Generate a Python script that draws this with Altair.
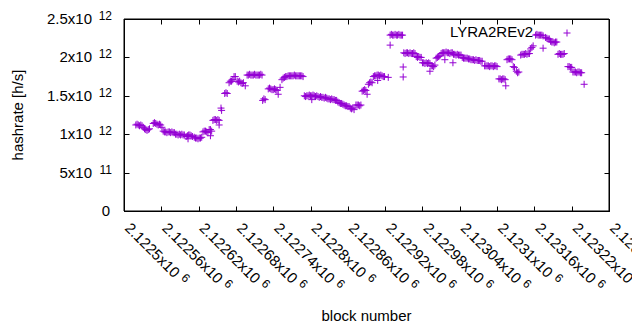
import altair as alt
import pandas as pd

# block numbers of the plotted samples
block = [
    2122519, 2122521, 2122523, 2122525, 2122527, 2122529,
    2122531, 2122533, 2122535, 2122537, 2122539, 2122541,
    2122547, 2122549, 2122551, 2122553, 2122555, 2122557, 2122559, 2122561,
    2122563, 2122565, 2122567, 2122569, 2122571, 2122573, 2122575, 2122577, 2122579, 2122581,
    2122583, 2122585, 2122587, 2122589, 2122591, 2122593, 2122595, 2122597,
    2122600, 2122602, 2122604, 2122606, 2122608, 2122610, 2122603,
    2122613, 2122615, 2122617, 2122619, 2122621, 2122623, 2122625,
    2122627, 2122629, 2122631, 2122633, 2122635, 2122637, 2122639, 2122641, 2122639,
    2122643, 2122645, 2122647, 2122649, 2122651, 2122653, 2122653, 2122656, 2122657,
    2122662, 2122664, 2122666,
    2122669, 2122671, 2122673, 2122675, 2122677, 2122679,
    2122682, 2122684, 2122686, 2122688, 2122690, 2122692, 2122695,
    2122698, 2122700, 2122702, 2122704, 2122706, 2122708, 2122710, 2122712, 2122714, 2122716, 2122718, 2122720, 2122722,
    2122723, 2122725, 2122727,
    2122732, 2122734, 2122736, 2122738, 2122740, 2122742, 2122744, 2122746, 2122748, 2122751,
    2122754, 2122756, 2122758, 2122760,
    2122762, 2122764, 2122766, 2122768, 2122770, 2122772, 2122774, 2122776, 2122778, 2122780, 2122782, 2122784, 2122786, 2122788,
    2122790, 2122792, 2122794, 2122796, 2122798, 2122800, 2122802, 2122804, 2122806, 2122808, 2122810, 2122812, 2122802,
    2122814, 2122816, 2122818, 2122820, 2122822, 2122824, 2122826,
    2122828, 2122830, 2122832, 2122834, 2122836, 2122838, 2122840, 2122842,
    2122844, 2122846, 2122848, 2122850, 2122852,
    2122854, 2122856, 2122858, 2122860, 2122862,
    2122864, 2122866, 2122868, 2122870,
    2122873, 2122875, 2122877, 2122879, 2122881,
    2122883, 2122885, 2122887, 2122889, 2122891,
    2122893, 2122895, 2122897, 2122899,
    2122901, 2122903, 2122905, 2122907, 2122909, 2122911, 2122913, 2122915, 2122917, 2122919, 2122908, 2122925,
    2122928, 2122930, 2122932, 2122934, 2122936, 2122938, 2122940, 2122942, 2122944, 2122946, 2122948, 2122928, 2122949, 2122949,
    2122950, 2122952, 2122954, 2122956, 2122958, 2122960, 2122962, 2122964, 2122966, 2122968,
    2122970, 2122972, 2122974, 2122976, 2122978,
    2122980, 2122982, 2122984, 2122986, 2122988, 2122990, 2122992, 2122992,
    2122994, 2122996, 2122998, 2123000,
    2123002, 2123004, 2123006, 2123008,
    2123010, 2123012, 2123014, 2123016, 2123018, 2123020, 2123022, 2123024, 2123026, 2123028, 2123016, 2123029,
    2123030, 2123032, 2123034, 2123036, 2123038, 2123040, 2123042,
    2123044, 2123046, 2123048, 2123050, 2123052, 2123054, 2123056,
    2123058, 2123060, 2123062, 2123064, 2123066, 2123068, 2123070, 2123072, 2123074, 2123076,
    2123080, 2123082, 2123084, 2123086, 2123088, 2123090, 2123092, 2123094, 2123096, 2123098, 2123100,
    2123103, 2123105, 2123107, 2123109, 2123111, 2123113, 2123114,
    2123116, 2123118, 2123120, 2123122, 2123124,
    2123126, 2123128,
    2123131, 2123133, 2123135,
    2123138, 2123140, 2123142, 2123144, 2123146, 2123148, 2123150, 2123152,
    2123154, 2123156, 2123158,
    2123162, 2123164, 2123166, 2123168, 2123170, 2123172, 2123174, 2123174,
    2123178, 2123180, 2123182, 2123184,
    2123186, 2123188, 2123190, 2123192, 2123194, 2123196,
    2123198, 2123200, 2123202, 2123204, 2123206, 2123208,
    2123214, 2123216, 2123218, 2123220,
    2123222, 2123224, 2123226, 2123228, 2123230, 2123232, 2123234, 2123236, 2123240,
]

# hashrate in units of 10^12 h/s, same order as block
hashrate_th = [
    1.12, 1.13, 1.12, 1.11, 1.12, 1.11,
    1.09, 1.07, 1.06, 1.05, 1.06, 1.07,
    1.14, 1.15, 1.14, 1.13, 1.12, 1.13, 1.12, 1.09,
    1.04, 1.03, 1.03, 1.02, 1.03, 1.03, 1.02, 1.03, 1.02, 1.02,
    1.00, 1.00, 0.99, 1.00, 0.99, 1.00, 0.99, 0.99,
    0.97, 0.98, 0.99, 0.99, 0.98, 0.97, 0.94,
    0.96, 0.95, 0.95, 0.94, 0.95, 0.95, 0.96,
    1.03, 1.04, 1.04, 1.03, 1.02, 1.06, 1.06, 1.04, 0.98,
    1.18, 1.19, 1.19, 1.18, 1.19, 1.18, 1.12, 1.34, 1.31,
    1.53, 1.54, 1.53,
    1.67, 1.69, 1.69, 1.71, 1.75, 1.75,
    1.69, 1.68, 1.69, 1.67, 1.66, 1.67, 1.63,
    1.77, 1.77, 1.78, 1.77, 1.77, 1.77, 1.78, 1.77, 1.77, 1.77, 1.77, 1.78, 1.77,
    1.44, 1.46, 1.45,
    1.59, 1.60, 1.59, 1.58, 1.58, 1.59, 1.58, 1.57, 1.52, 1.61,
    1.71, 1.73, 1.74, 1.75,
    1.75, 1.76, 1.76, 1.76, 1.76, 1.76, 1.77, 1.76, 1.76, 1.76, 1.76, 1.76, 1.76, 1.75,
    1.50, 1.49, 1.50, 1.50, 1.51, 1.50, 1.50, 1.51, 1.50, 1.49, 1.50, 1.49, 1.45,
    1.48, 1.49, 1.48, 1.48, 1.47, 1.48, 1.47,
    1.46, 1.46, 1.45, 1.46, 1.45, 1.45, 1.44, 1.44,
    1.42, 1.41, 1.40, 1.40, 1.39,
    1.38, 1.37, 1.37, 1.36, 1.36,
    1.34, 1.33, 1.34, 1.32,
    1.38, 1.38, 1.38, 1.37, 1.38,
    1.56, 1.57, 1.58, 1.57, 1.52,
    1.65, 1.67, 1.68, 1.67,
    1.75, 1.76, 1.76, 1.77, 1.77, 1.76, 1.77, 1.76, 1.75, 1.75, 1.70, 1.74,
    2.29, 2.30, 2.29, 2.29, 2.30, 2.29, 2.29, 2.30, 2.29, 2.29, 2.29, 2.16, 1.875, 1.745,
    2.06, 2.05, 2.06, 2.06, 2.05, 2.06, 2.05, 2.05, 2.06, 2.05,
    2.01, 2.00, 2.01, 2.00, 2.00,
    1.93, 1.93, 1.92, 1.93, 1.92, 1.93, 1.92, 1.82,
    1.89, 1.89, 1.88, 1.90,
    1.99, 2.00, 2.01, 2.02,
    2.05, 2.06, 2.06, 2.06, 2.07, 2.06, 2.06, 2.05, 2.06, 2.06, 1.97, 1.93,
    2.04, 2.04, 2.03, 2.04, 2.03, 2.03, 2.03,
    2.00, 1.99, 1.99, 1.99, 1.99, 1.98, 1.98,
    1.97, 1.97, 1.97, 1.96, 1.97, 1.96, 1.96, 1.96, 1.95, 1.95,
    1.89, 1.89, 1.89, 1.89, 1.88, 1.89, 1.89, 1.88, 1.89, 1.89, 1.88,
    1.72, 1.72, 1.71, 1.72, 1.72, 1.71, 1.63,
    1.97, 1.98, 1.98, 1.98, 1.97,
    1.88, 1.87,
    1.82, 1.80, 1.81,
    2.03, 2.04, 2.04, 2.04, 2.05, 2.04, 2.05, 2.05,
    2.11, 2.13, 2.15,
    2.29, 2.30, 2.29, 2.29, 2.29, 2.29, 2.28, 2.12,
    2.26, 2.25, 2.24, 2.24,
    2.21, 2.20, 2.20, 2.19, 2.20, 2.20,
    2.04, 2.05, 2.04, 2.04, 2.04, 2.05,
    1.88, 1.88, 1.87, 1.87,
    1.81, 1.81, 1.81, 1.80, 1.81, 1.81, 1.80, 1.80, 1.65,
]

x_ticks = [2122500, 2122560, 2122620, 2122680, 2122740, 2122800, 2122860,
           2122920, 2122980, 2123040, 2123100, 2123160, 2123220, 2123280]
x_tick_mantissa = ["2.1225x10", "2.12256x10", "2.12262x10", "2.12268x10", "2.12274x10",
                   "2.1228x10", "2.12286x10", "2.12292x10", "2.12298x10", "2.12304x10",
                   "2.1231x10", "2.12316x10", "2.12322x10", "2.12328x10"]
x_tick_exponent = ["6", "6", "6", "6", "6", "6", "6", "6", "6", "6", "6", "6", "6", "6"]

y_ticks = [0, 0.5, 1.0, 1.5, 2.0, 2.5]
y_tick_mantissa = ["0", "5x10", "1x10", "1.5x10", "2x10", "2.5x10"]
y_tick_exponent = ["", "11", "12", "12", "12", "12"]

series_name = ["LYRA2REv2"]
x_title = ["block number"]
y_title = ["hashrate [h/s]"]

assert len(block) == len(hashrate_th), (len(block), len(hashrate_th))
df = pd.DataFrame({"block": block, "hashrate": hashrate_th})
xt_df = pd.DataFrame({"tick": x_ticks, "mant": x_tick_mantissa, "exp": x_tick_exponent})
yt_df = pd.DataFrame({"tick": y_ticks, "mant": y_tick_mantissa, "exp": y_tick_exponent})
frame_df = pd.DataFrame({"x0": [x_ticks[0]], "x1": [x_ticks[-1]], "y0": [y_ticks[0]], "y1": [y_ticks[-1]]})
leg_df = pd.DataFrame({"name": series_name})
xtitle_df = pd.DataFrame({"t": x_title})
ytitle_df = pd.DataFrame({"t": y_title})

PURPLE = "#9400D3"
INK = "black"
PLUS = "M-1,0L1,0M0,-1L0,1"
FONT = "Liberation Sans"
FS = 15
EXP_FS = 12
W, H = 485, 192
TICK = 5

xscale = alt.Scale(domain=[x_ticks[0], x_ticks[-1]], nice=False, zero=False)
yscale = alt.Scale(domain=[y_ticks[0], y_ticks[-1]], nice=False, zero=False)

# axes carry no labels: they draw the border (domain) and the inward tick
# marks as short dashes of the grid at each end
x_axis = alt.Axis(orient="bottom", values=x_ticks, labels=False, ticks=False, title="",
                  domain=True, domainColor=INK, domainWidth=1,
                  grid=True, gridColor=INK, gridOpacity=1, gridWidth=1,
                  gridDash=[TICK, H - 2 * TICK, TICK, 0])
y_axis = alt.Axis(orient="left", values=y_ticks, labels=False, ticks=False, title="",
                  domain=True, domainColor=INK, domainWidth=1,
                  grid=True, gridColor=INK, gridOpacity=1, gridWidth=1,
                  gridDash=[TICK, W - 2 * TICK, TICK, 0])

X = alt.X("tick:Q", scale=xscale, axis=x_axis)
Y = alt.Y("tick:Q", scale=yscale, axis=y_axis)

points = alt.Chart(df).mark_point(
    shape=PLUS, size=49, filled=False, color=PURPLE, strokeWidth=1, opacity=1
).encode(
    x=alt.X("block:Q", scale=xscale, axis=x_axis),
    y=alt.Y("hashrate:Q", scale=yscale, axis=y_axis),
)

frame = alt.Chart(frame_df).mark_rect(filled=False, color=INK, strokeWidth=1, opacity=1).encode(
    x=alt.X("x0:Q", scale=xscale, axis=x_axis), x2="x1:Q",
    y=alt.Y("y0:Q", scale=yscale, axis=y_axis), y2="y1:Q",
)

# x tick labels, rotated 45 degrees, with raised exponent
x_mant = alt.Chart(xt_df).mark_text(
    angle=45, align="left", baseline="alphabetic", font=FONT, fontSize=FS, color="black"
).encode(x=X, y=alt.value(H + 18), text="mant:N")
x_exp_narrow = alt.Chart(xt_df).transform_filter("length(datum.mant) == 9").mark_text(
    angle=45, align="left", baseline="alphabetic", font=FONT, fontSize=EXP_FS, color="black",
    dx=75, dy=-5
).encode(x=X, y=alt.value(H + 18), text="exp:N")
x_exp_wide = alt.Chart(xt_df).transform_filter("length(datum.mant) == 10").mark_text(
    angle=45, align="left", baseline="alphabetic", font=FONT, fontSize=EXP_FS, color="black",
    dx=83, dy=-5
).encode(x=X, y=alt.value(H + 18), text="exp:N")

# y tick labels with raised exponent
y_mant = alt.Chart(yt_df).transform_filter("datum.exp != ''").mark_text(
    align="right", baseline="middle", font=FONT, fontSize=FS, color="black"
).encode(y=Y, x=alt.value(-32), text="mant:N")
y_zero = alt.Chart(yt_df).transform_filter("datum.exp == ''").mark_text(
    align="right", baseline="middle", font=FONT, fontSize=FS, color="black"
).encode(y=Y, x=alt.value(-14), text="mant:N")
y_exp = alt.Chart(yt_df).transform_filter("datum.exp != ''").mark_text(
    align="right", baseline="alphabetic", font=FONT, fontSize=EXP_FS, color="black", dy=1
).encode(y=Y, x=alt.value(-12), text="exp:N")

x_title_mark = alt.Chart(xtitle_df).mark_text(
    align="center", baseline="middle", font=FONT, fontSize=FS, color="black"
).encode(text="t:N", x=alt.value(W / 2), y=alt.value(H + 105))
y_title_mark = alt.Chart(ytitle_df).mark_text(
    align="center", baseline="middle", font=FONT, fontSize=FS, color="black", angle=270
).encode(text="t:N", x=alt.value(-106), y=alt.value(H / 2))

leg_text = alt.Chart(leg_df).mark_text(
    align="right", baseline="middle", font=FONT, fontSize=FS, color="black"
).encode(text="name:N", x=alt.value(409), y=alt.value(13))
leg_point = alt.Chart(leg_df).mark_point(
    shape=PLUS, size=49, filled=False, color=PURPLE, strokeWidth=1, opacity=1
).encode(x=alt.value(443), y=alt.value(14))

chart = alt.layer(
    points, frame,
    x_mant, x_exp_narrow, x_exp_wide, y_mant, y_zero, y_exp,
    x_title_mark, y_title_mark, leg_text, leg_point,
).properties(
    width=W, height=H,
    autosize=alt.AutoSizeParams(type="none"),
    padding={"left": 116, "top": 11, "right": 23, "bottom": 111},
    background="white",
).configure_view(
    stroke=INK, strokeWidth=1
)

chart.save("out.html", embed_options={"renderer": "svg", "actions": False})
